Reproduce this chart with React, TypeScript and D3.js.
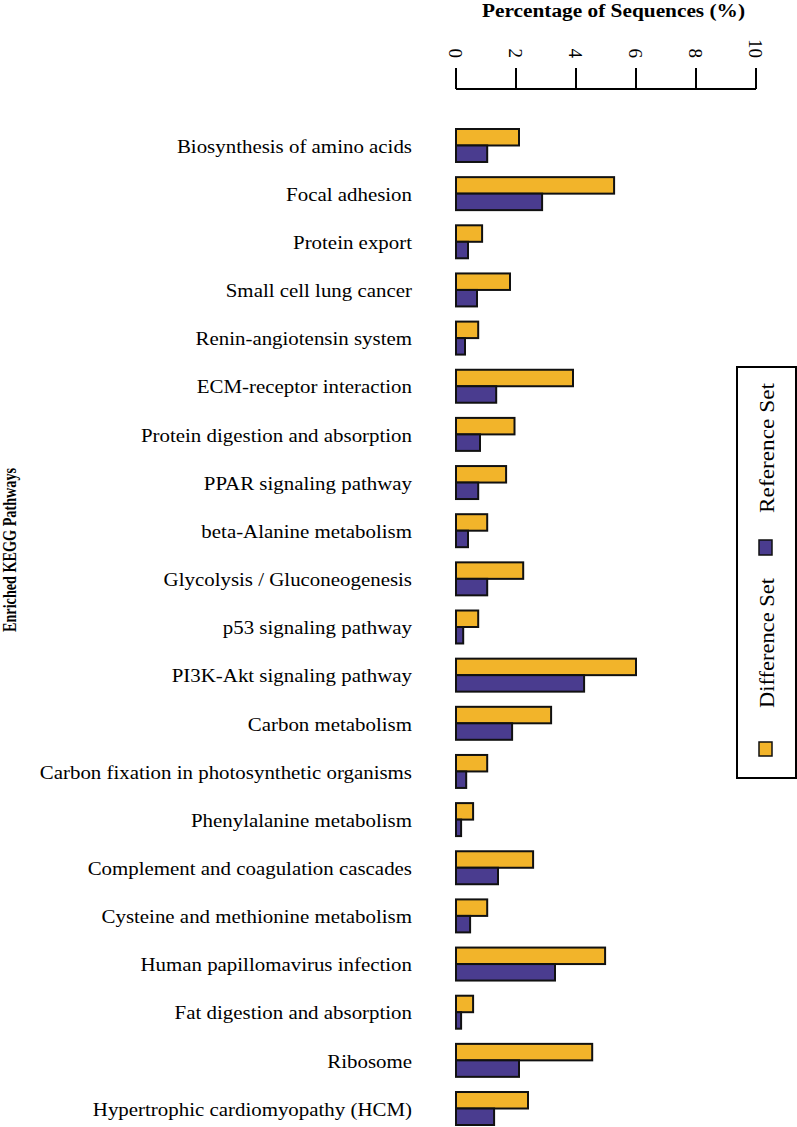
import React from 'react';
import * as d3 from 'd3';

const categories = [
  'Biosynthesis of amino acids',
  'Focal adhesion',
  'Protein export',
  'Small cell lung cancer',
  'Renin-angiotensin system',
  'ECM-receptor interaction',
  'Protein digestion and absorption',
  'PPAR signaling pathway',
  'beta-Alanine metabolism',
  'Glycolysis / Gluconeogenesis',
  'p53 signaling pathway',
  'PI3K-Akt signaling pathway',
  'Carbon metabolism',
  'Carbon fixation in photosynthetic organisms',
  'Phenylalanine metabolism',
  'Complement and coagulation cascades',
  'Cysteine and methionine metabolism',
  'Human papillomavirus infection',
  'Fat digestion and absorption',
  'Ribosome',
  'Hypertrophic cardiomyopathy (HCM)',
];

const differenceSet = [2.1, 5.27, 0.87, 1.8, 0.74, 3.9, 1.95, 1.67, 1.04, 2.24, 0.74, 6.0, 3.17, 1.04, 0.57, 2.57, 1.04, 4.97, 0.57, 4.54, 2.4];
const referenceSet = [1.04, 2.87, 0.4, 0.7, 0.3, 1.34, 0.8, 0.74, 0.4, 1.04, 0.24, 4.27, 1.87, 0.34, 0.17, 1.4, 0.47, 3.3, 0.17, 2.1, 1.27];

const seriesNames = ['Difference Set', 'Reference Set'];
const seriesColors = ['#F2B42A', '#4A3C8F'];
const xTicks = [0, 2, 4, 6, 8, 10];

const FONT = '"Liberation Serif", "Times New Roman", serif';

const App: React.FC = () => {
  const width = 797;
  const height = 1127;
  const axisY = 89;

  const x = d3.scaleLinear().domain([0, 10]).range([456, 756]);

  const y = d3
    .scaleBand<string>()
    .domain(categories)
    .range([129, 1125])
    .paddingInner(0.315)
    .paddingOuter(0);

  const sub = d3.scaleBand<string>().domain(seriesNames).range([0, y.bandwidth()]);

  const series = [differenceSet, referenceSet];

  return (
    <svg
      width={width}
      height={height}
      style={{ position: 'absolute', left: 0, top: 0, background: '#fff' }}
      fontFamily={FONT}
    >
      {/* title */}
      <text
        x={482}
        y={17}
        fontSize={18}
        fontWeight="bold"
        textLength={263}
        lengthAdjust="spacingAndGlyphs"
      >
        Percentage of Sequences (%)
      </text>

      {/* top axis */}
      <line x1={x(0)} x2={x(10)} y1={axisY} y2={axisY} stroke="#000" strokeWidth={2} />
      {xTicks.map(t => (
        <g key={t}>
          <line x1={x(t)} x2={x(t)} y1={axisY} y2={68} stroke="#000" strokeWidth={2} />
          <text
            transform={`translate(${x(t)},58) rotate(90)`}
            textAnchor="end"
            dy="0.35em"
            fontSize={19}
          >
            {t}
          </text>
        </g>
      ))}

      {/* y axis label */}
      <text
        transform="translate(16,632) rotate(-90)"
        fontSize={19}
        fontWeight="bold"
        textLength={164}
        lengthAdjust="spacingAndGlyphs"
      >
        Enriched KEGG Pathways
      </text>

      {/* categories + bars */}
      {categories.map((c, i) => (
        <g key={c} transform={`translate(0,${y(c)})`}>
          <text
            transform={`translate(412,${y.bandwidth() / 2}) scale(1.1,1)`}
            dy="0.38em"
            textAnchor="end"
            fontSize={19}
          >
            {c}
          </text>
          {series.map((vals, s) => (
            <rect
              key={s}
              x={x(0)}
              y={sub(seriesNames[s])!}
              width={x(vals[i]) - x(0)}
              height={sub.bandwidth()}
              fill={seriesColors[s]}
              stroke="#111"
              strokeWidth={2}
            />
          ))}
        </g>
      ))}

      {/* legend */}
      <rect x={737} y={367} width={59} height={411} fill="none" stroke="#000" strokeWidth={2} />
      <rect x={759} y={742} width={13} height={14} fill={seriesColors[0]} stroke="#111" strokeWidth={1.5} />
      <text
        transform="translate(767,708) rotate(-90)"
        dy="0.35em"
        fontSize={21}
        textLength={130}
        lengthAdjust="spacingAndGlyphs"
      >
        {seriesNames[0]}
      </text>
      <rect x={759} y={540} width={13} height={15} fill={seriesColors[1]} stroke="#111" strokeWidth={1.5} />
      <text
        transform="translate(767,513) rotate(-90)"
        dy="0.35em"
        fontSize={21}
        textLength={130}
        lengthAdjust="spacingAndGlyphs"
      >
        {seriesNames[1]}
      </text>
    </svg>
  );
};

export default App;
